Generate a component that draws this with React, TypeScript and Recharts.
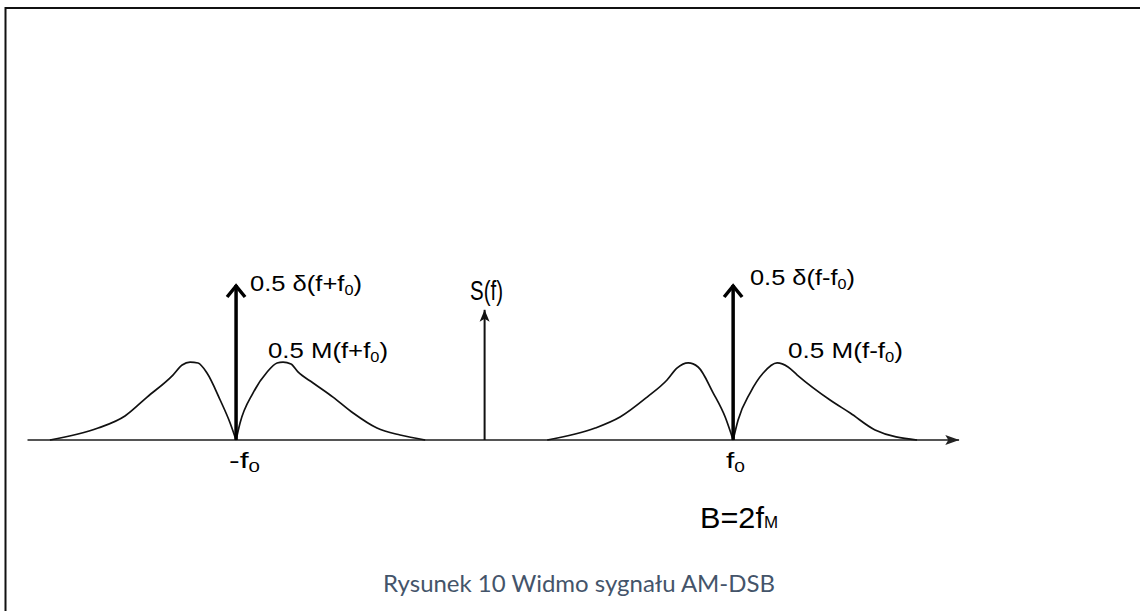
import React from "react";
import { ComposedChart, Line, XAxis, YAxis } from "recharts";

// Lobes of 0.5 M(f+f0) around -f0 (frequency in units of f0, amplitude relative to delta weight = 1)
const lobeALeftF = [-1.749, -1.555, -1.447, -1.358, -1.254, -1.217, -1.185, -1.153, -1.117, -1.064, -1.024, -1.0];
const lobeALeftS = [0, 0.077, 0.155, 0.277, 0.419, 0.484, 0.503, 0.497, 0.432, 0.258, 0.11, 0];
const lobeARightF = [-1.0, -0.984, -0.932, -0.875, -0.835, -0.811, -0.779, -0.751, -0.69, -0.61, -0.529, -0.433, -0.34, -0.239];
const lobeARightS = [0, 0.11, 0.303, 0.439, 0.497, 0.503, 0.49, 0.439, 0.368, 0.277, 0.174, 0.077, 0.032, 0];

// Lobes of 0.5 M(f-f0) around +f0
const lobeBLeftF = [0.252, 0.445, 0.545, 0.654, 0.734, 0.775, 0.819, 0.859, 0.92, 0.968, 1.0];
const lobeBLeftS = [0, 0.077, 0.148, 0.277, 0.387, 0.465, 0.497, 0.471, 0.303, 0.148, 0];
const lobeBRightF = [1.0, 1.02, 1.068, 1.121, 1.177, 1.221, 1.258, 1.39, 1.471, 1.571, 1.74];
const lobeBRightS = [0, 0.129, 0.303, 0.432, 0.497, 0.471, 0.419, 0.258, 0.174, 0.065, 0];

// Frequency axis
const freqAxisF = [-1.84, 1.91];
const freqAxisS = [0, 0];

// S(f) vertical axis
const sAxisF = [0, 0];
const sAxisS = [0, 0.84];

// Carrier deltas 0.5 δ(f±f0)
const deltaNegF = [-1, -1];
const deltaPosF = [1, 1];
const deltaS = [0, 1];

const xDomain = [-1.84, 1.91];
const yDomain = [-0.5, 2];

const zip = (f: number[], s: number[]) => f.map((x, i) => ({ f: x, v: s[i] }));

const axisData = zip(freqAxisF, freqAxisS);
const sAxisData = zip(sAxisF, sAxisS);
const lobes = [
  zip(lobeALeftF, lobeALeftS),
  zip(lobeARightF, lobeARightS),
  zip(lobeBLeftF, lobeBLeftS),
  zip(lobeBRightF, lobeBRightS),
];
const deltaNegData = zip(deltaNegF, deltaS);
const deltaPosData = zip(deltaPosF, deltaS);

const noDot = (p: any) => <g key={`n${p.index}`} />;

const rightArrow = (p: any) =>
  p.index === 1 ? (
    <path
      key={`ra${p.index}`}
      d={`M${p.cx},${p.cy} L${p.cx - 14},${p.cy - 5} L${p.cx - 11},${p.cy} L${p.cx - 14},${p.cy + 5} Z`}
      fill="#222"
    />
  ) : (
    <g key={`ra${p.index}`} />
  );

const smallUpArrow = (p: any) =>
  p.index === 1 ? (
    <path
      key={`su${p.index}`}
      d={`M${p.cx},${p.cy} L${p.cx - 5},${p.cy + 12} L${p.cx},${p.cy + 9} L${p.cx + 5},${p.cy + 12} Z`}
      fill="#111"
    />
  ) : (
    <g key={`su${p.index}`} />
  );

const chevronUp = (p: any) =>
  p.index === 1 ? (
    <path
      key={`cu${p.index}`}
      d={`M${p.cx - 9},${p.cy + 12} L${p.cx},${p.cy + 1} L${p.cx + 9},${p.cy + 12}`}
      fill="none"
      stroke="#000"
      strokeWidth={3.5}
      strokeLinejoin="miter"
    />
  ) : (
    <g key={`cu${p.index}`} />
  );

const labelFont = "'Liberation Sans', Arial, sans-serif";

export default function App() {
  return (
    <div style={{ position: "absolute", left: 0, top: 0, width: 1140, height: 611, background: "#fff", overflow: "hidden" }}>
      <ComposedChart
        width={1140}
        height={611}
        margin={{ top: 130, right: 180.7, bottom: 93.5, left: 27.3 }}
      >
        <XAxis type="number" dataKey="f" domain={xDomain} allowDataOverflow hide />
        <YAxis type="number" domain={yDomain} allowDataOverflow hide width={0} />
        <Line data={axisData} dataKey="v" type="linear" stroke="#555" strokeWidth={2} dot={rightArrow} activeDot={false} isAnimationActive={false} />
        {lobes.map((d, i) => (
          <Line key={`lobe${i}`} data={d} dataKey="v" type="monotoneX" stroke="#111" strokeWidth={1.7} dot={noDot} activeDot={false} isAnimationActive={false} />
        ))}
        <Line data={sAxisData} dataKey="v" type="linear" stroke="#111" strokeWidth={2} dot={smallUpArrow} activeDot={false} isAnimationActive={false} />
        <Line data={deltaNegData} dataKey="v" type="linear" stroke="#000" strokeWidth={3.5} dot={chevronUp} activeDot={false} isAnimationActive={false} />
        <Line data={deltaPosData} dataKey="v" type="linear" stroke="#000" strokeWidth={3.5} dot={chevronUp} activeDot={false} isAnimationActive={false} />
      </ComposedChart>
      <svg width={1140} height={611} style={{ position: "absolute", left: 0, top: 0, pointerEvents: "none" }}>
        <line x1={5.5} y1={8} x2={1140} y2={8} stroke="#111" strokeWidth={2} />
        <line x1={5.5} y1={7} x2={5.5} y2={611} stroke="#111" strokeWidth={2} />
        <g fontFamily={labelFont} fill="#000">
          <text x={250} y={291} fontSize={22} textLength={112} lengthAdjust="spacingAndGlyphs">
            0.5 δ(f+f<tspan fontSize={14} dy={4}>0</tspan><tspan dy={-4}>)</tspan>
          </text>
          <text x={268} y={358} fontSize={22} textLength={120} lengthAdjust="spacingAndGlyphs">
            0.5 M(f+f<tspan fontSize={14} dy={4}>0</tspan><tspan dy={-4}>)</tspan>
          </text>
          <text x={229} y={468} fontSize={22} textLength={31} lengthAdjust="spacingAndGlyphs">
            -f<tspan fontSize={14} dy={4}>0</tspan>
          </text>
          <text x={470} y={300} fontSize={27} textLength={33} lengthAdjust="spacingAndGlyphs">S(f)</text>
          <text x={750} y={285} fontSize={22} textLength={105} lengthAdjust="spacingAndGlyphs">
            0.5 δ(f-f<tspan fontSize={14} dy={4}>0</tspan><tspan dy={-4}>)</tspan>
          </text>
          <text x={788} y={358} fontSize={22} textLength={115} lengthAdjust="spacingAndGlyphs">
            0.5 M(f-f<tspan fontSize={14} dy={4}>0</tspan><tspan dy={-4}>)</tspan>
          </text>
          <text x={726} y={468} fontSize={22} textLength={19} lengthAdjust="spacingAndGlyphs">
            f<tspan fontSize={14} dy={4}>0</tspan>
          </text>
          <text x={700} y={528} fontSize={29} textLength={78} lengthAdjust="spacingAndGlyphs">
            B=2f<tspan fontSize={16}>M</tspan>
          </text>
        </g>
        <text x={383} y={592} fontSize={24} fontFamily="Lato, 'Open Sans', sans-serif" fill="#44546A" textLength={392} lengthAdjust="spacingAndGlyphs">
          Rysunek 10 Widmo sygnału AM-DSB
        </text>
      </svg>
    </div>
  );
}
